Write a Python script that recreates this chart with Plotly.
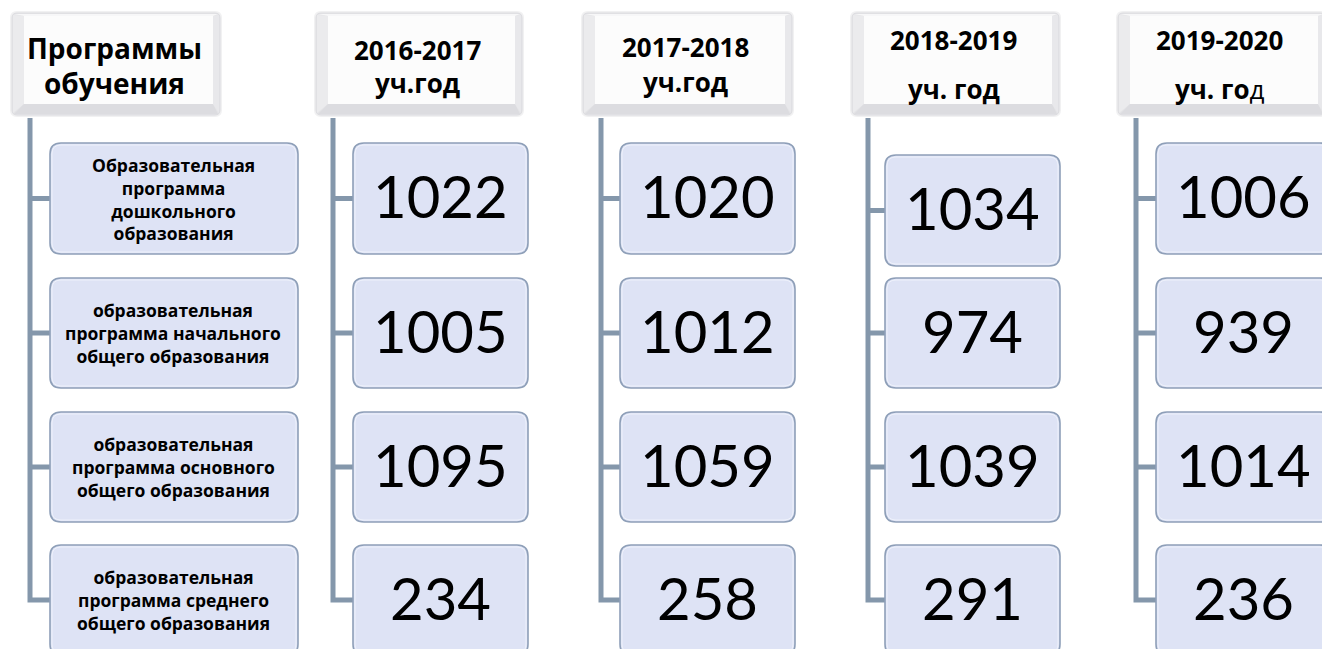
import plotly.graph_objects as go

# ---------------- data ----------------
title_lines = ["Программы", "обучения"]
years = ["2016-2017", "2017-2018", "2018-2019", "2019-2020"]
year_suffix = ["<b>уч.год</b>", "<b>уч.год</b>", "<b>уч. год</b>", "<b>уч. го</b>д"]
programs = [
    "Образовательная<br>программа<br>дошкольного<br>образования",
    "образовательная<br>программа начального<br>общего образования",
    "образовательная<br>программа основного<br>общего образования",
    "образовательная<br>программа среднего<br>общего образования",
]
counts_2016_2017 = [1022, 1005, 1095, 234]
counts_2017_2018 = [1020, 1012, 1059, 258]
counts_2018_2019 = [1034, 974, 1039, 291]
counts_2019_2020 = [1006, 939, 1014, 236]
counts = [counts_2016_2017, counts_2017_2018, counts_2018_2019, counts_2019_2020]

# ---------------- layout constants ----------------
W, H = 1322, 649
header_x = [(12, 220), (316, 522), (583, 792), (852, 1059), (1118, 1325)]
header_y = (13, 115)
conn_x = [30, 333, 601, 868, 1136]
box_x = [(50, 298), (353, 528), (620, 795), (885, 1060), (1156, 1331)]
row_y = [(143, 254), (278, 388), (412, 522), (545, 655)]
row_y_col3 = [(155, 266), (278, 388), (412, 522), (545, 655)]
header_line_y = [(48, 83), (50, 83), (47, 82), (40, 89), (40, 89)]

CONN = "#8497AB"
BOX_FILL = "#DEE3F5"
BOX_LINE = "#8E9FB8"


def rrect(x0, y0, x1, y1, r):
    return (f"M{x0 + r},{y0} L{x1 - r},{y0} Q{x1},{y0} {x1},{y0 + r} "
            f"L{x1},{y1 - r} Q{x1},{y1} {x1 - r},{y1} L{x0 + r},{y1} "
            f"Q{x0},{y1} {x0},{y1 - r} L{x0},{y0 + r} Q{x0},{y0} {x0 + r},{y0} Z")


def poly(pts):
    return "M" + " L".join(f"{x},{y}" for x, y in pts) + " Z"


shapes = []
annotations = []

# headers (bevel style)
for i, (x0, x1) in enumerate(header_x):
    y0, y1 = header_y
    shapes.append(dict(type="path", path=rrect(x0 - 2, y0 - 2, x1 + 2, y1 + 2, 7),
                       fillcolor="#f1f1f2", line=dict(width=0), layer="below"))
    shapes.append(dict(type="path", path=rrect(x0, y0, x1, y1, 5),
                       fillcolor="#e4e4e7", line=dict(color="#dcdce0", width=1)))
    a, b, c, d = x0 + 12, y0 + 3, x1 - 7, y1 - 11
    shapes.append(dict(type="path", path=poly([(x0 + 2, y0 + 1), (x1 - 2, y0 + 1), (c, b), (a, b)]),
                       fillcolor="#f7f7f8", line=dict(width=0)))
    shapes.append(dict(type="path", path=poly([(x0 + 1, y0 + 2), (a, b), (a, d), (x0 + 1, y1 - 2)]),
                       fillcolor="#ebebed", line=dict(width=0)))
    shapes.append(dict(type="path", path=poly([(x0 + 2, y1 - 1), (a, d), (c, d), (x1 - 2, y1 - 1)]),
                       fillcolor="#dcdce0", line=dict(width=0)))
    shapes.append(dict(type="path", path=poly([(x1 - 1, y0 + 2), (x1 - 1, y1 - 2), (c, d), (c, b)]),
                       fillcolor="#e8e8eb", line=dict(width=0)))
    shapes.append(dict(type="rect", x0=a, y0=b, x1=c, y1=d,
                       fillcolor="#fcfcfc", line=dict(width=0)))

    cx = (x0 + x1) / 2 - 2
    if i == 0:
        l1, l2 = "<b>" + title_lines[0] + "</b>", "<b>" + title_lines[1] + "</b>"
        size = 28
    else:
        l1, l2 = "<b>" + years[i - 1] + "</b>", year_suffix[i - 1]
        size = 26
    for txt, ty in zip((l1, l2), header_line_y[i]):
        annotations.append(dict(x=cx, y=ty, text=txt, showarrow=False,
                                xanchor="center", yanchor="middle",
                                font=dict(family="Open Sans", size=size, color="#000000")))

# connectors and boxes
for col in range(5):
    rows = row_y_col3 if col == 3 else row_y
    cx = conn_x[col]
    bx0, bx1 = box_x[col]
    mids = [(r0 + r1) / 2 for r0, r1 in rows]
    path = f"M{cx},118 L{cx},{mids[-1]} L{bx0},{mids[-1]}"
    for m in mids[:-1]:
        path += f" M{cx},{m} L{bx0},{m}"
    shapes.append(dict(type="path", path=path, line=dict(color=CONN, width=5), layer="below"))

    for r, (r0, r1) in enumerate(rows):
        shapes.append(dict(type="path", path=rrect(bx0, r0, bx1, r1, 11),
                           fillcolor=BOX_FILL, line=dict(color=BOX_LINE, width=1.6)))
        shapes.append(dict(type="path", path=rrect(bx0 + 2, r0 + 2, bx1 - 2, r1 - 2, 9),
                           fillcolor="rgba(0,0,0,0)", line=dict(color="#eef1fb", width=1)))
        my = (r0 + r1) / 2
        if col == 0:
            annotations.append(dict(x=(bx0 + bx1) / 2 - 1, y=my, text="<b>" + programs[r] + "</b>",
                                    showarrow=False, xanchor="center", yanchor="middle",
                                    align="center",
                                    font=dict(family="Open Sans", size=17.5, color="#000000")))
        else:
            annotations.append(dict(x=(bx0 + bx1) / 2, y=my - 3, text=str(counts[col - 1][r]),
                                    showarrow=False, xanchor="center", yanchor="middle",
                                    font=dict(family="Lato", size=58, color="#000000")))

fig = go.Figure()
fig.update_layout(
    width=W, height=H,
    margin=dict(l=0, r=0, t=0, b=0),
    paper_bgcolor="white", plot_bgcolor="white",
    xaxis=dict(range=[0, W], visible=False, fixedrange=True),
    yaxis=dict(range=[H, 0], visible=False, fixedrange=True),
    shapes=shapes, annotations=annotations, showlegend=False,
)
fig.write_html(
    "out.html",
    config={"displayModeBar": False},
    post_script="document.body.style.margin='0';document.body.style.overflow='hidden';"
                "document.documentElement.style.overflow='hidden';",
)
